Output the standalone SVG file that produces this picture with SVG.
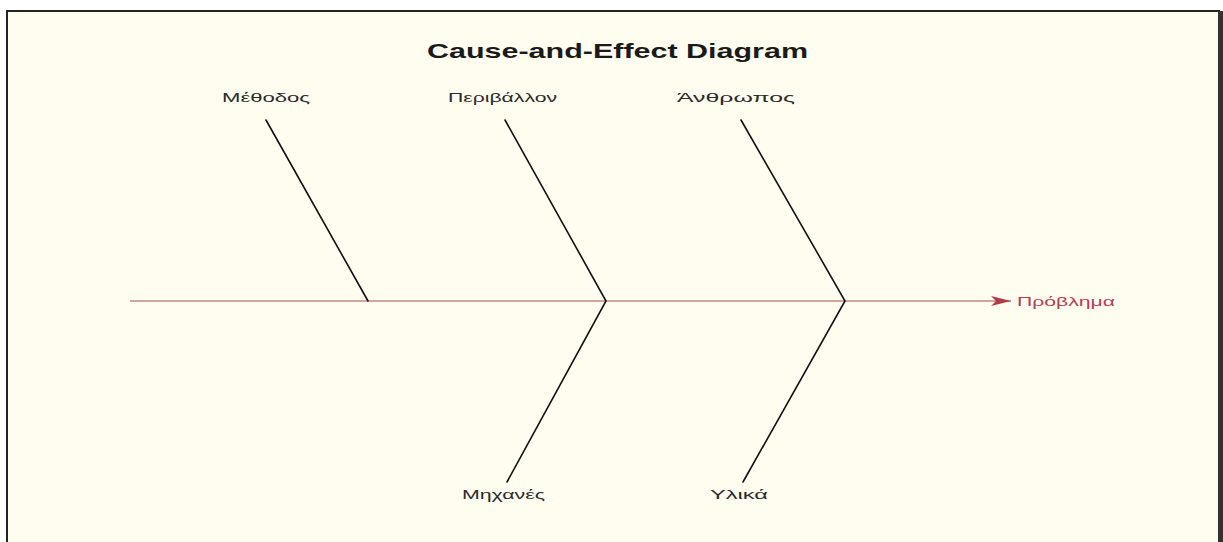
<svg xmlns="http://www.w3.org/2000/svg" width="1223" height="542" viewBox="0 0 1223 542">
<style>
.lbl{font-family:"Liberation Sans","DejaVu Sans",sans-serif;font-size:13px;fill:#2a2a2a}
.title{font-family:"Liberation Sans",Arial,sans-serif;font-size:21px;font-weight:bold;fill:#1a1a1a}
.bone{stroke:#111;stroke-width:1.6;fill:none;stroke-linecap:round}
.spine{stroke:#a5504c;stroke-width:1.2;fill:none}
</style>
<defs>
<marker id="arr" viewBox="0 0 20 10" refX="20" refY="5" markerWidth="20" markerHeight="10" markerUnits="userSpaceOnUse" orient="auto">
<path d="M0,0 L20,5 L0,10 L5,5 Z" fill="#b03a48"/>
</marker>
</defs>
<rect x="0" y="0" width="1223" height="542" fill="#ffffff"/>
<rect x="7" y="11" width="1212" height="540" fill="#fffdf0" stroke="#222" stroke-width="2"/>
<rect x="1218" y="11" width="5" height="531" fill="#333"/>
<text class="title" x="427" y="58" textLength="381" lengthAdjust="spacingAndGlyphs">Cause-and-Effect Diagram</text>
<g id="connectors">
<line class="spine" x1="130" y1="301" x2="1011" y2="301" marker-end="url(#arr)"/>
<line class="bone" x1="266" y1="120" x2="368" y2="301"/>
<polyline class="bone" points="505,120 606,301 507,482"/>
<polyline class="bone" points="741,120 845,301 743,482"/>
</g>
<g id="methodos"><text class="lbl" x="222" y="102" textLength="88" lengthAdjust="spacingAndGlyphs">Μέθοδος</text></g>
<g id="perivallon"><text class="lbl" x="448" y="102" textLength="109" lengthAdjust="spacingAndGlyphs">Περιβάλλον</text></g>
<g id="anthropos"><text class="lbl" x="677" y="102" textLength="118" lengthAdjust="spacingAndGlyphs">Άνθρωπος</text></g>
<g id="problima"><text class="lbl" x="1017" y="306" textLength="98" lengthAdjust="spacingAndGlyphs" style="fill:#b04050">Πρόβλημα</text></g>
<g id="michanes"><text class="lbl" x="462" y="499" textLength="83" lengthAdjust="spacingAndGlyphs">Μηχανές</text></g>
<g id="ylika"><text class="lbl" x="710" y="499" textLength="58" lengthAdjust="spacingAndGlyphs">Υλικά</text></g>
</svg>
